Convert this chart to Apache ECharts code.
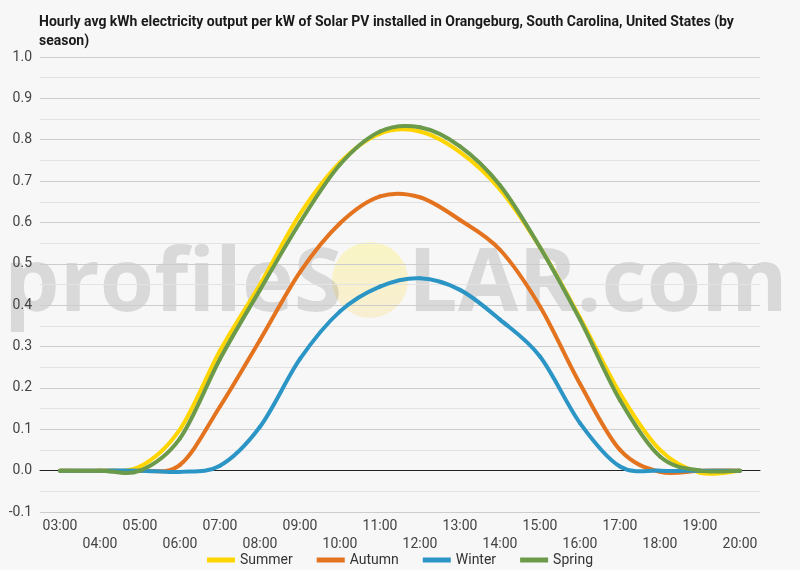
<!DOCTYPE html>
<html>
<head>
<meta charset="utf-8">
<title>Orangeburg solar PV output by season</title>
<script src="https://cdn.jsdelivr.net/npm/echarts@6/dist/echarts.min.js"></script>
<style>
  html, body { margin: 0; padding: 0; background: #f7f7f7; }
  #main { width: 800px; height: 570px; }
</style>
</head>
<body>
<div id="main"></div>
<script>
// hours of the day (x axis)
var hours = ['03:00', '04:00', '05:00', '06:00', '07:00', '08:00', '09:00', '10:00', '11:00',
             '12:00', '13:00', '14:00', '15:00', '16:00', '17:00', '18:00', '19:00', '20:00'];

// hourly avg kWh per kW installed
var summer = [0, 0, 0.01, 0.10, 0.29, 0.45, 0.62, 0.745, 0.815, 0.82, 0.77, 0.68, 0.54, 0.37, 0.187, 0.05, -0.005, 0];
var autumn = [0, 0, 0, 0.014, 0.155, 0.316, 0.48, 0.598, 0.663, 0.661, 0.606, 0.534, 0.397, 0.21, 0.05, -0.003, 0, 0];
var winter = [0, 0, 0, -0.003, 0.012, 0.106, 0.27, 0.385, 0.445, 0.465, 0.437, 0.365, 0.276, 0.115, 0.01, 0, 0, 0];
var spring = [0, 0, 0, 0.078, 0.27, 0.437, 0.60, 0.74, 0.82, 0.83, 0.784, 0.69, 0.54, 0.365, 0.17, 0.034, 0, 0];

var seasonNames = ['Summer', 'Autumn', 'Winter', 'Spring'];
var seasonColors = ['#ffd500', '#e3731e', '#2b95c5', '#6b9a4b'];
var seasonData = [summer, autumn, winter, spring];

var myChart = echarts.init(document.getElementById('main'));

// each item draws one curve piece from hour i to i+1 (catmull-rom through the points)
function seasonSeries(k) {
    var vals = seasonData[k];
    var color = seasonColors[k];
    return {
        name: seasonNames[k],
        type: 'custom',
        data: vals.map(function (v, i) { return [i, v]; }),
        encode: { x: 0, y: 1 },
        itemStyle: { color: color },
        silent: true,
        renderItem: function (params, api) {
            var i = params.dataIndex;
            if (i >= vals.length - 1) return null;
            var pt = function (j) {
                j = Math.max(0, Math.min(vals.length - 1, j));
                return api.coord([j, vals[j]]);
            };
            var p0 = pt(i - 1), p1 = pt(i), p2 = pt(i + 1), p3 = pt(i + 2);
            var t = 1 / 6;
            return {
                type: 'bezierCurve',
                shape: {
                    x1: p1[0], y1: p1[1], x2: p2[0], y2: p2[1],
                    cpx1: p1[0] + (p2[0] - p0[0]) * t, cpy1: p1[1] + (p2[1] - p0[1]) * t,
                    cpx2: p2[0] - (p3[0] - p1[0]) * t, cpy2: p2[1] - (p3[1] - p1[1]) * t
                },
                style: { stroke: color, lineWidth: 4, fill: null, lineCap: 'round' }
            };
        }
    };
}

var option = {
    backgroundColor: '#f7f7f7',
    textStyle: { fontFamily: 'Roboto' },
    title: {
        text: 'Hourly avg kWh electricity output per kW of Solar PV installed in Orangeburg, South Carolina, United States (by\nseason)',
        left: 34,
        top: 8,
        textStyle: { fontSize: 14, fontWeight: 'bold', color: '#1a1a1a', lineHeight: 19 }
    },
    graphic: [
        // watermark
        {
            type: 'circle', silent: true, z: -1,
            shape: { cx: 370, cy: 280, r: 38 },
            style: {
                fill: new echarts.graphic.LinearGradient(0, 0, 0, 1, [
                    { offset: 0, color: '#f9f5c4' },
                    { offset: 1, color: '#f8eed2' }
                ])
            }
        },
        {
            type: 'text', silent: true, z: -1,
            style: {
                x: 4, y: 286, text: 'profileS', textVerticalAlign: 'middle',
                font: 'bold 88px "Open Sans"', fill: 'rgba(0,0,0,0.12)'
            }
        },
        {
            type: 'text', silent: true, z: -1,
            style: {
                x: 408, y: 286, text: 'LAR.com', textVerticalAlign: 'middle',
                font: 'bold 88px "Open Sans"', fill: 'rgba(0,0,0,0.12)'
            }
        }
    ],
    legend: {
        data: seasonNames,
        top: 548,
        left: 'center',
        icon: 'rect',
        itemWidth: 28,
        itemHeight: 5,
        itemGap: 24,
        textStyle: { fontSize: 14, color: '#333' }
    },
    grid: { left: 40, right: 40, top: 57, bottom: 58 },
    xAxis: [
        {
            type: 'category',
            data: hours,
            boundaryGap: true,
            axisLine: { show: false, onZero: false },
            axisTick: { show: false },
            axisLabel: {
                interval: 0,
                fontSize: 14,
                color: '#444',
                margin: 5,
                lineHeight: 18,
                formatter: function (v, i) { return i % 2 ? '\n' + v : v; }
            }
        },
        {
            // zero line
            type: 'category',
            data: hours,
            position: 'bottom',
            axisLine: { show: true, onZero: true, lineStyle: { color: '#222', width: 1 } },
            axisTick: { show: false },
            axisLabel: { show: false }
        }
    ],
    yAxis: {
        type: 'value',
        min: -0.1,
        max: 1.0,
        interval: 0.1,
        axisLine: { show: false },
        axisTick: { show: false },
        axisLabel: {
            fontSize: 14,
            color: '#444',
            margin: 8,
            formatter: function (v) { return v.toFixed(1); }
        },
        splitLine: { lineStyle: { color: '#cccccc' } },
        minorTick: { show: false, splitNumber: 2 },
        minorSplitLine: { show: true, lineStyle: { color: '#e3e3e3' } }
    },
    series: [0, 1, 2, 3].map(seasonSeries)
};

myChart.setOption(option);
</script>
</body>
</html>
